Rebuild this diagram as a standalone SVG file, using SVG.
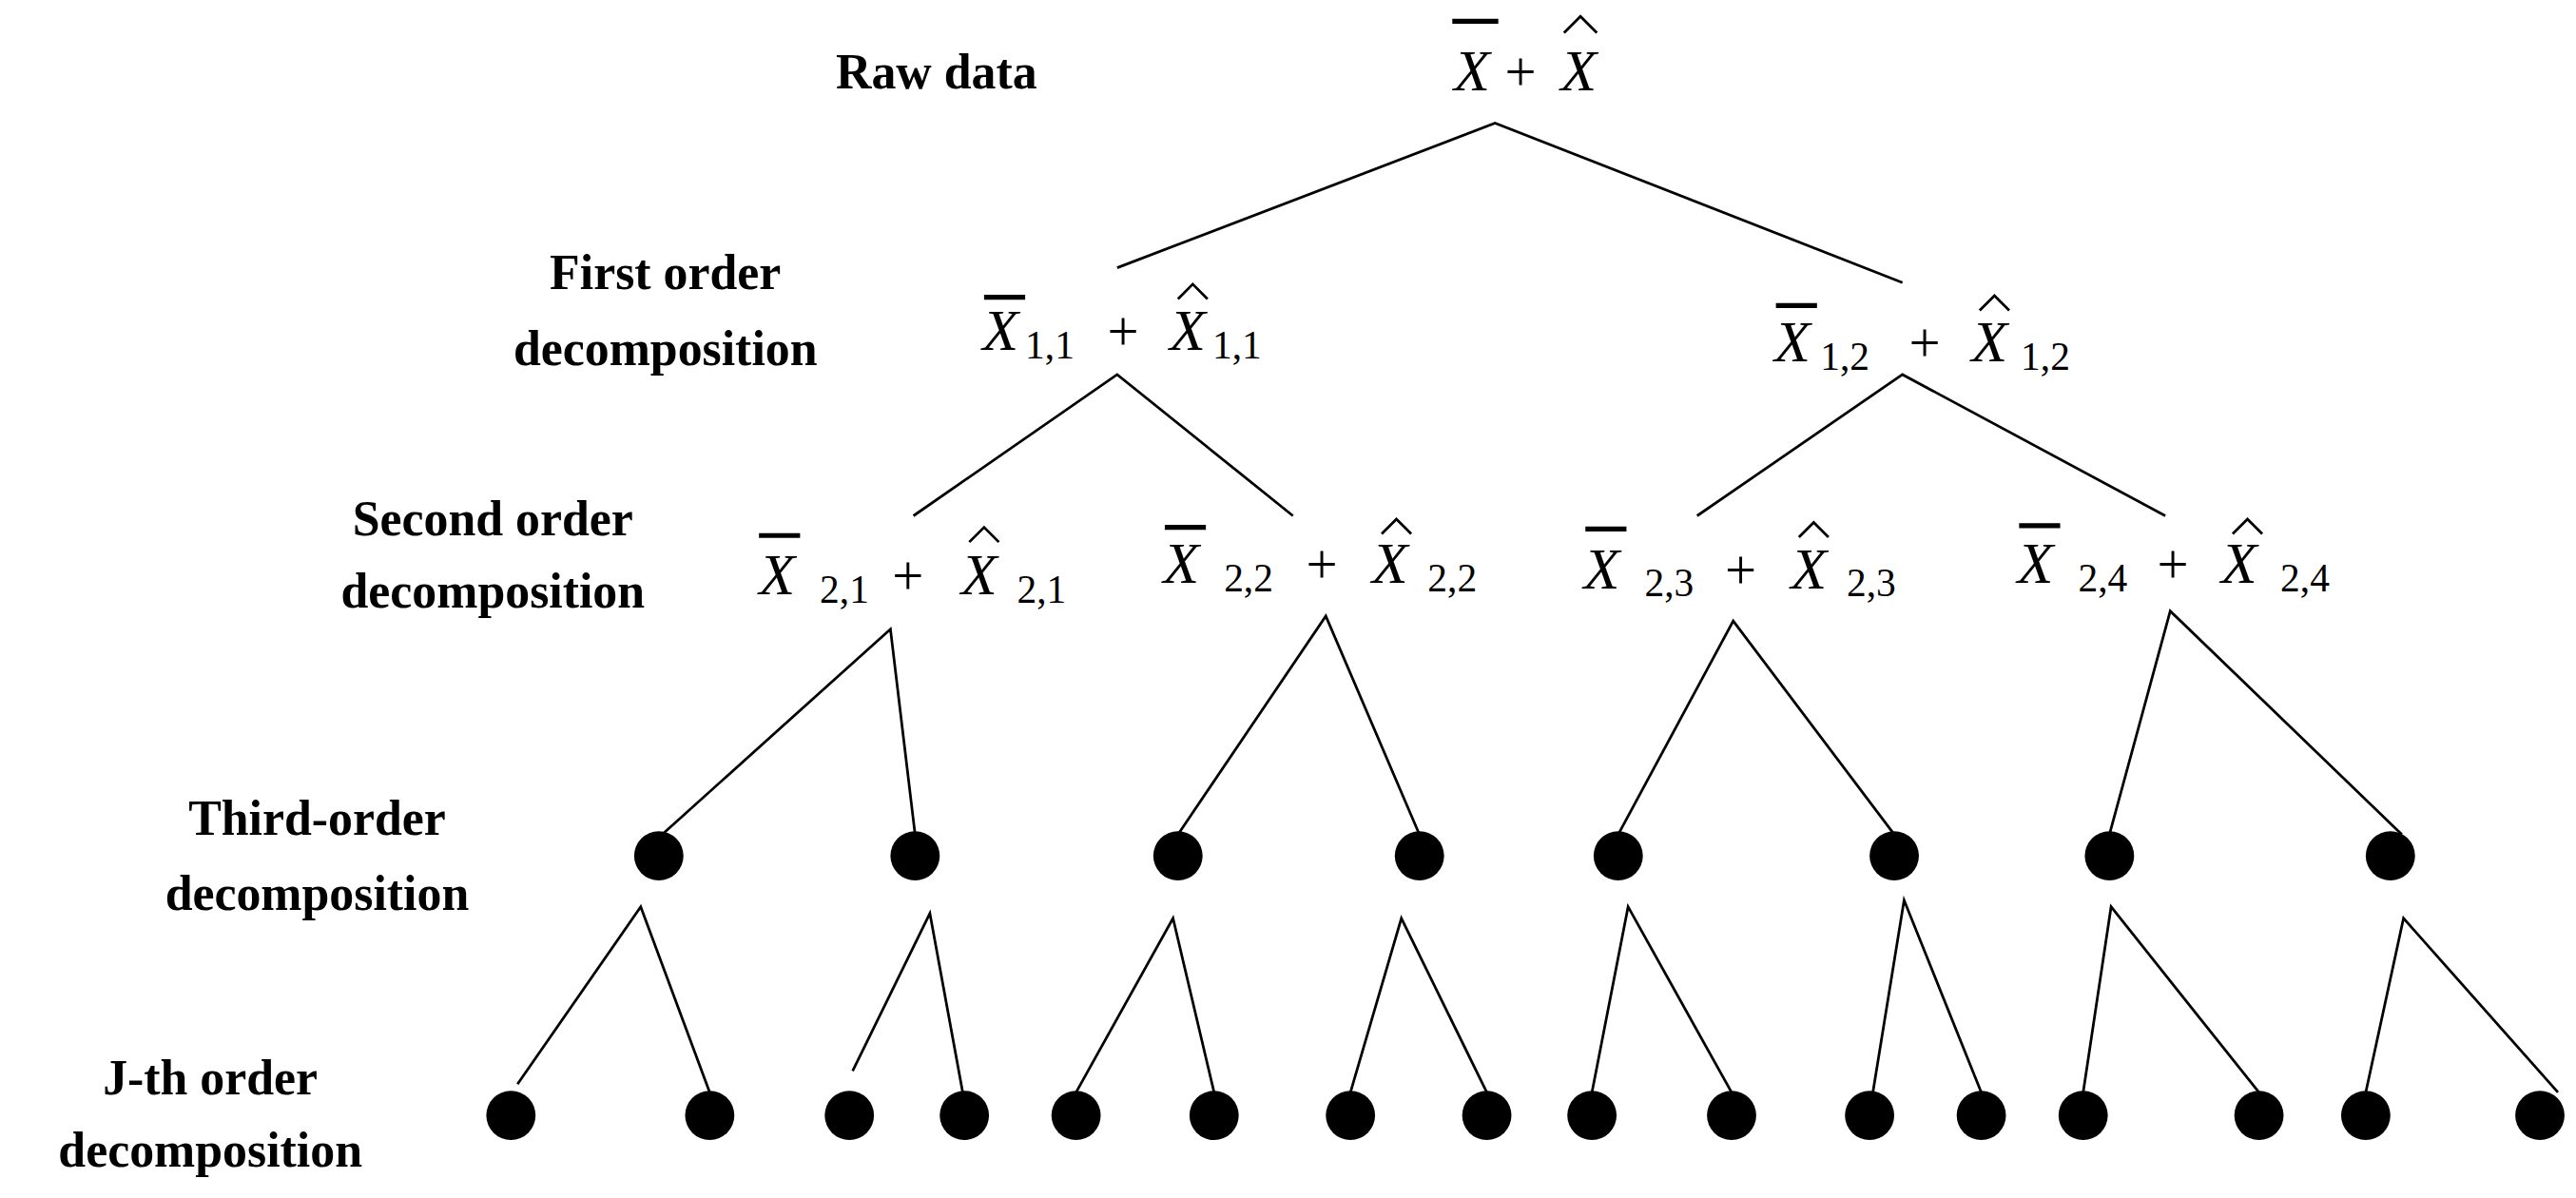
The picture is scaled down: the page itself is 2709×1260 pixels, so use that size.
<svg xmlns="http://www.w3.org/2000/svg" width="2709" height="1260" viewBox="0 0 2709 1260">
<style>
.lbl{font-family:"Liberation Serif",serif;font-weight:bold;font-size:30px;text-anchor:middle;fill:#000}
.mx{font-family:"Liberation Serif",serif;font-style:italic;font-size:36px;fill:#000}
.mp{font-family:"Liberation Serif",serif;font-size:34px;fill:#000}
.ms{font-family:"Liberation Serif",serif;font-size:24px;fill:#000}
.bar{stroke:#000;stroke-width:3}
.hat{stroke:#000;stroke-width:1.6;fill:none}
.edge{stroke:#000;stroke-width:1.6;fill:none}
.dot{fill:#000}
</style>
<rect width="2709" height="1260" fill="#fff"/>
<g transform="scale(1.7277)">
<g id="labels">
<text class="lbl" x="570" y="54">Raw data</text>
<text class="lbl" x="405" y="176">First order</text>
<text class="lbl" x="405" y="222">decomposition</text>
<text class="lbl" x="300" y="326">Second order</text>
<text class="lbl" x="300" y="370">decomposition</text>
<text class="lbl" x="193" y="508">Third-order</text>
<text class="lbl" x="193" y="554">decomposition</text>
<text class="lbl" x="128" y="666">J-th order</text>
<text class="lbl" x="128" y="710">decomposition</text>
</g>
<g id="connectors">
<path class="edge" d="M680,163 L910,75 L1158,172"/>
<path class="edge" d="M556,314 L680,228 L787,314"/>
<path class="edge" d="M1033,314 L1158,228 L1318,314"/>
<path class="edge" d="M403,508 L542,383 L557,508"/>
<path class="edge" d="M717,508 L807,375 L864,508"/>
<path class="edge" d="M985,508 L1055,378 L1153,508"/>
<path class="edge" d="M1284,508 L1321,372 L1462,508"/>
<path class="edge" d="M315,660 L390,552 L432,665"/>
<path class="edge" d="M519,652 L566,556 L586,665"/>
<path class="edge" d="M655,665 L714,559 L739,665"/>
<path class="edge" d="M822,665 L853,559 L905,665"/>
<path class="edge" d="M969,665 L991,552 L1054,665"/>
<path class="edge" d="M1140,665 L1159,548 L1206,665"/>
<path class="edge" d="M1268,665 L1285,552 L1375,665"/>
<path class="edge" d="M1440,665 L1463,559 L1557,665"/>
</g>
<g id="root">
<text class="mx" x="885" y="55">X</text><line class="bar" x1="884" y1="13" x2="912" y2="13"/>
<text class="mp" x="916" y="55">+</text>
<text class="mx" x="950" y="55">X</text><polyline class="hat" points="952,20 962,10 972,20"/>
</g>
<g id="n11">
<text class="mx" x="598" y="213">X</text><line class="bar" x1="599" y1="181" x2="624" y2="181"/>
<text class="ms" x="624" y="218">1,1</text>
<text class="mp" x="674" y="213">+</text>
<text class="mx" x="712" y="213">X</text><polyline class="hat" points="717,182 726,173 735,182"/>
<text class="ms" x="738" y="218">1,1</text>
</g>
<g id="n12">
<text class="mx" x="1080" y="220">X</text><line class="bar" x1="1081" y1="186" x2="1106" y2="186"/>
<text class="ms" x="1108" y="225">1,2</text>
<text class="mp" x="1162" y="220">+</text>
<text class="mx" x="1200" y="220">X</text><polyline class="hat" points="1205,189 1214,180 1223,189"/>
<text class="ms" x="1230" y="225">1,2</text>
</g>
<g id="n21">
<text class="mx" x="462" y="362">X</text><line class="bar" x1="462" y1="326" x2="487" y2="326"/>
<text class="ms" x="499" y="367">2,1</text>
<text class="mp" x="543" y="362">+</text>
<text class="mx" x="585" y="362">X</text><polyline class="hat" points="590,330 599,321 608,330"/>
<text class="ms" x="619" y="367">2,1</text>
</g>
<g id="n22">
<text class="mx" x="708" y="355">X</text><line class="bar" x1="709" y1="321" x2="734" y2="321"/>
<text class="ms" x="745" y="360">2,2</text>
<text class="mp" x="795" y="355">+</text>
<text class="mx" x="835" y="355">X</text><polyline class="hat" points="841,325 850,316 859,325"/>
<text class="ms" x="869" y="360">2,2</text>
</g>
<g id="n23">
<text class="mx" x="964" y="358">X</text><line class="bar" x1="965" y1="322" x2="990" y2="322"/>
<text class="ms" x="1001" y="363">2,3</text>
<text class="mp" x="1050" y="358">+</text>
<text class="mx" x="1090" y="358">X</text><polyline class="hat" points="1095,327 1104,318 1113,327"/>
<text class="ms" x="1124" y="363">2,3</text>
</g>
<g id="n24">
<text class="mx" x="1228" y="355">X</text><line class="bar" x1="1229" y1="320" x2="1254" y2="320"/>
<text class="ms" x="1265" y="360">2,4</text>
<text class="mp" x="1313" y="355">+</text>
<text class="mx" x="1352" y="355">X</text><polyline class="hat" points="1359,325 1368,316 1377,325"/>
<text class="ms" x="1388" y="360">2,4</text>
</g>
<g id="third">
<circle class="dot" cx="401" cy="521" r="15"/><circle class="dot" cx="557" cy="521" r="15"/>
<circle class="dot" cx="717" cy="521" r="15"/><circle class="dot" cx="864" cy="521" r="15"/>
<circle class="dot" cx="985" cy="521" r="15"/><circle class="dot" cx="1153" cy="521" r="15"/>
<circle class="dot" cx="1284" cy="521" r="15"/><circle class="dot" cx="1455" cy="521" r="15"/>
</g>
<g id="jth">
<circle class="dot" cx="311" cy="679" r="15"/><circle class="dot" cx="432" cy="679" r="15"/>
<circle class="dot" cx="517" cy="679" r="15"/><circle class="dot" cx="587" cy="679" r="15"/>
<circle class="dot" cx="655" cy="679" r="15"/><circle class="dot" cx="739" cy="679" r="15"/>
<circle class="dot" cx="822" cy="679" r="15"/><circle class="dot" cx="905" cy="679" r="15"/>
<circle class="dot" cx="969" cy="679" r="15"/><circle class="dot" cx="1054" cy="679" r="15"/>
<circle class="dot" cx="1138" cy="679" r="15"/><circle class="dot" cx="1206" cy="679" r="15"/>
<circle class="dot" cx="1268" cy="679" r="15"/><circle class="dot" cx="1375" cy="679" r="15"/>
<circle class="dot" cx="1440" cy="679" r="15"/><circle class="dot" cx="1546" cy="679" r="15"/>
</g>
</g>
</svg>
